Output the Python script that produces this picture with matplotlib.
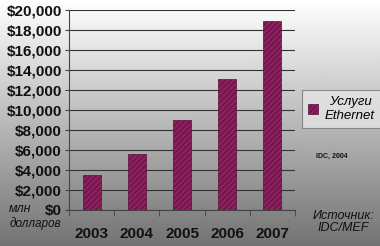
import matplotlib.pyplot as plt
import numpy as np
from matplotlib import ticker

# данные
YEARS = ['2003', '2004', '2005', '2006', '2007']
VALUES = [3500, 5600, 9000, 13100, 18900]
Y_TICKS = [0, 2000, 4000, 6000, 8000, 10000, 12000, 14000, 16000, 18000, 20000]
BAR_COLOR = '#8c1f5e'

plt.rcParams['font.family'] = ['Liberation Sans', 'DejaVu Sans']
plt.rcParams['hatch.color'] = '#6e1448'
plt.rcParams['hatch.linewidth'] = 0.6

fig = plt.figure(figsize=(3.8, 2.46), dpi=100)

# фон-градиент
bg = fig.add_axes([0, 0, 1, 1], zorder=-10)
grad = np.linspace(1.0, 0.45, 256).reshape(-1, 1)
bg.imshow(grad, cmap='gray', vmin=0, vmax=1, aspect='auto', extent=[0, 1, 0, 1])
bg.axis('off')

ax = fig.add_axes([69 / 380, 1 - 210 / 246, 226 / 380, 200 / 246])
ax.patch.set_alpha(0)
x = np.arange(len(YEARS))
ax.bar(x, VALUES, width=0.4, color=BAR_COLOR, edgecolor='#5a0f3a', linewidth=0.5,
       hatch='//////', label='Услуги\nEthernet', zorder=3)

ax.set_xlim(-0.5, len(YEARS) - 0.5)
ax.set_ylim(0, 20000)
ax.set_yticks(Y_TICKS)
ax.yaxis.set_major_formatter(ticker.FuncFormatter(lambda v, p: '${:,.0f}'.format(v)))
ax.set_xticks(x)
ax.set_xticklabels(YEARS)
ax.set_xticks(np.arange(-0.5, len(YEARS), 1), minor=True)
ax.tick_params(axis='x', which='major', length=0, pad=12, labelsize=11)
ax.tick_params(axis='x', which='minor', length=4, direction='out', color='#444444')
ax.tick_params(axis='y', length=3, direction='out', pad=2, labelsize=11, color='#444444')
for lbl in ax.get_xticklabels() + ax.get_yticklabels():
    lbl.set_fontweight('bold')
    lbl.set_color('#111111')

ax.grid(axis='y', color='#333333', linewidth=0.8, zorder=0)
for side in ['top', 'right']:
    ax.spines[side].set_visible(False)
ax.spines['left'].set_color('#444444')
ax.spines['bottom'].set_color('#444444')

leg = fig.legend(loc='upper left', bbox_to_anchor=(302 / 380, 1 - 90 / 246),
                 prop={'style': 'italic', 'size': 9.5}, frameon=True,
                 fancybox=False, handlelength=0.8, handleheight=0.8,
                 borderpad=0.45, borderaxespad=0, handletextpad=0.5, labelspacing=0.2)
leg.get_frame().set_facecolor('#e4e4e4')
leg.get_frame().set_edgecolor('#777777')
leg.get_frame().set_linewidth(0.8)
for t in leg.get_texts():
    t.set_ha('center')

fig.text(20 / 380, 1 - 209 / 246, 'млн', fontsize=9, style='italic',
         ha='center', va='center', color='#111111')
fig.text(35 / 380, 1 - 224 / 246, 'долларов', fontsize=8.5, style='italic',
         ha='center', va='center', color='#111111')
fig.text(316 / 380, 1 - 156 / 246, 'IDC, 2004', fontsize=5, fontweight='bold',
         ha='left', va='center', color='#111111')
fig.text(343 / 380, 1 - 222 / 246, 'Источник:\nIDC/MEF', fontsize=9, style='italic',
         ha='center', va='center', linespacing=0.95, color='#111111')

plt.savefig('out.png', dpi=100)
plt.close('all')
